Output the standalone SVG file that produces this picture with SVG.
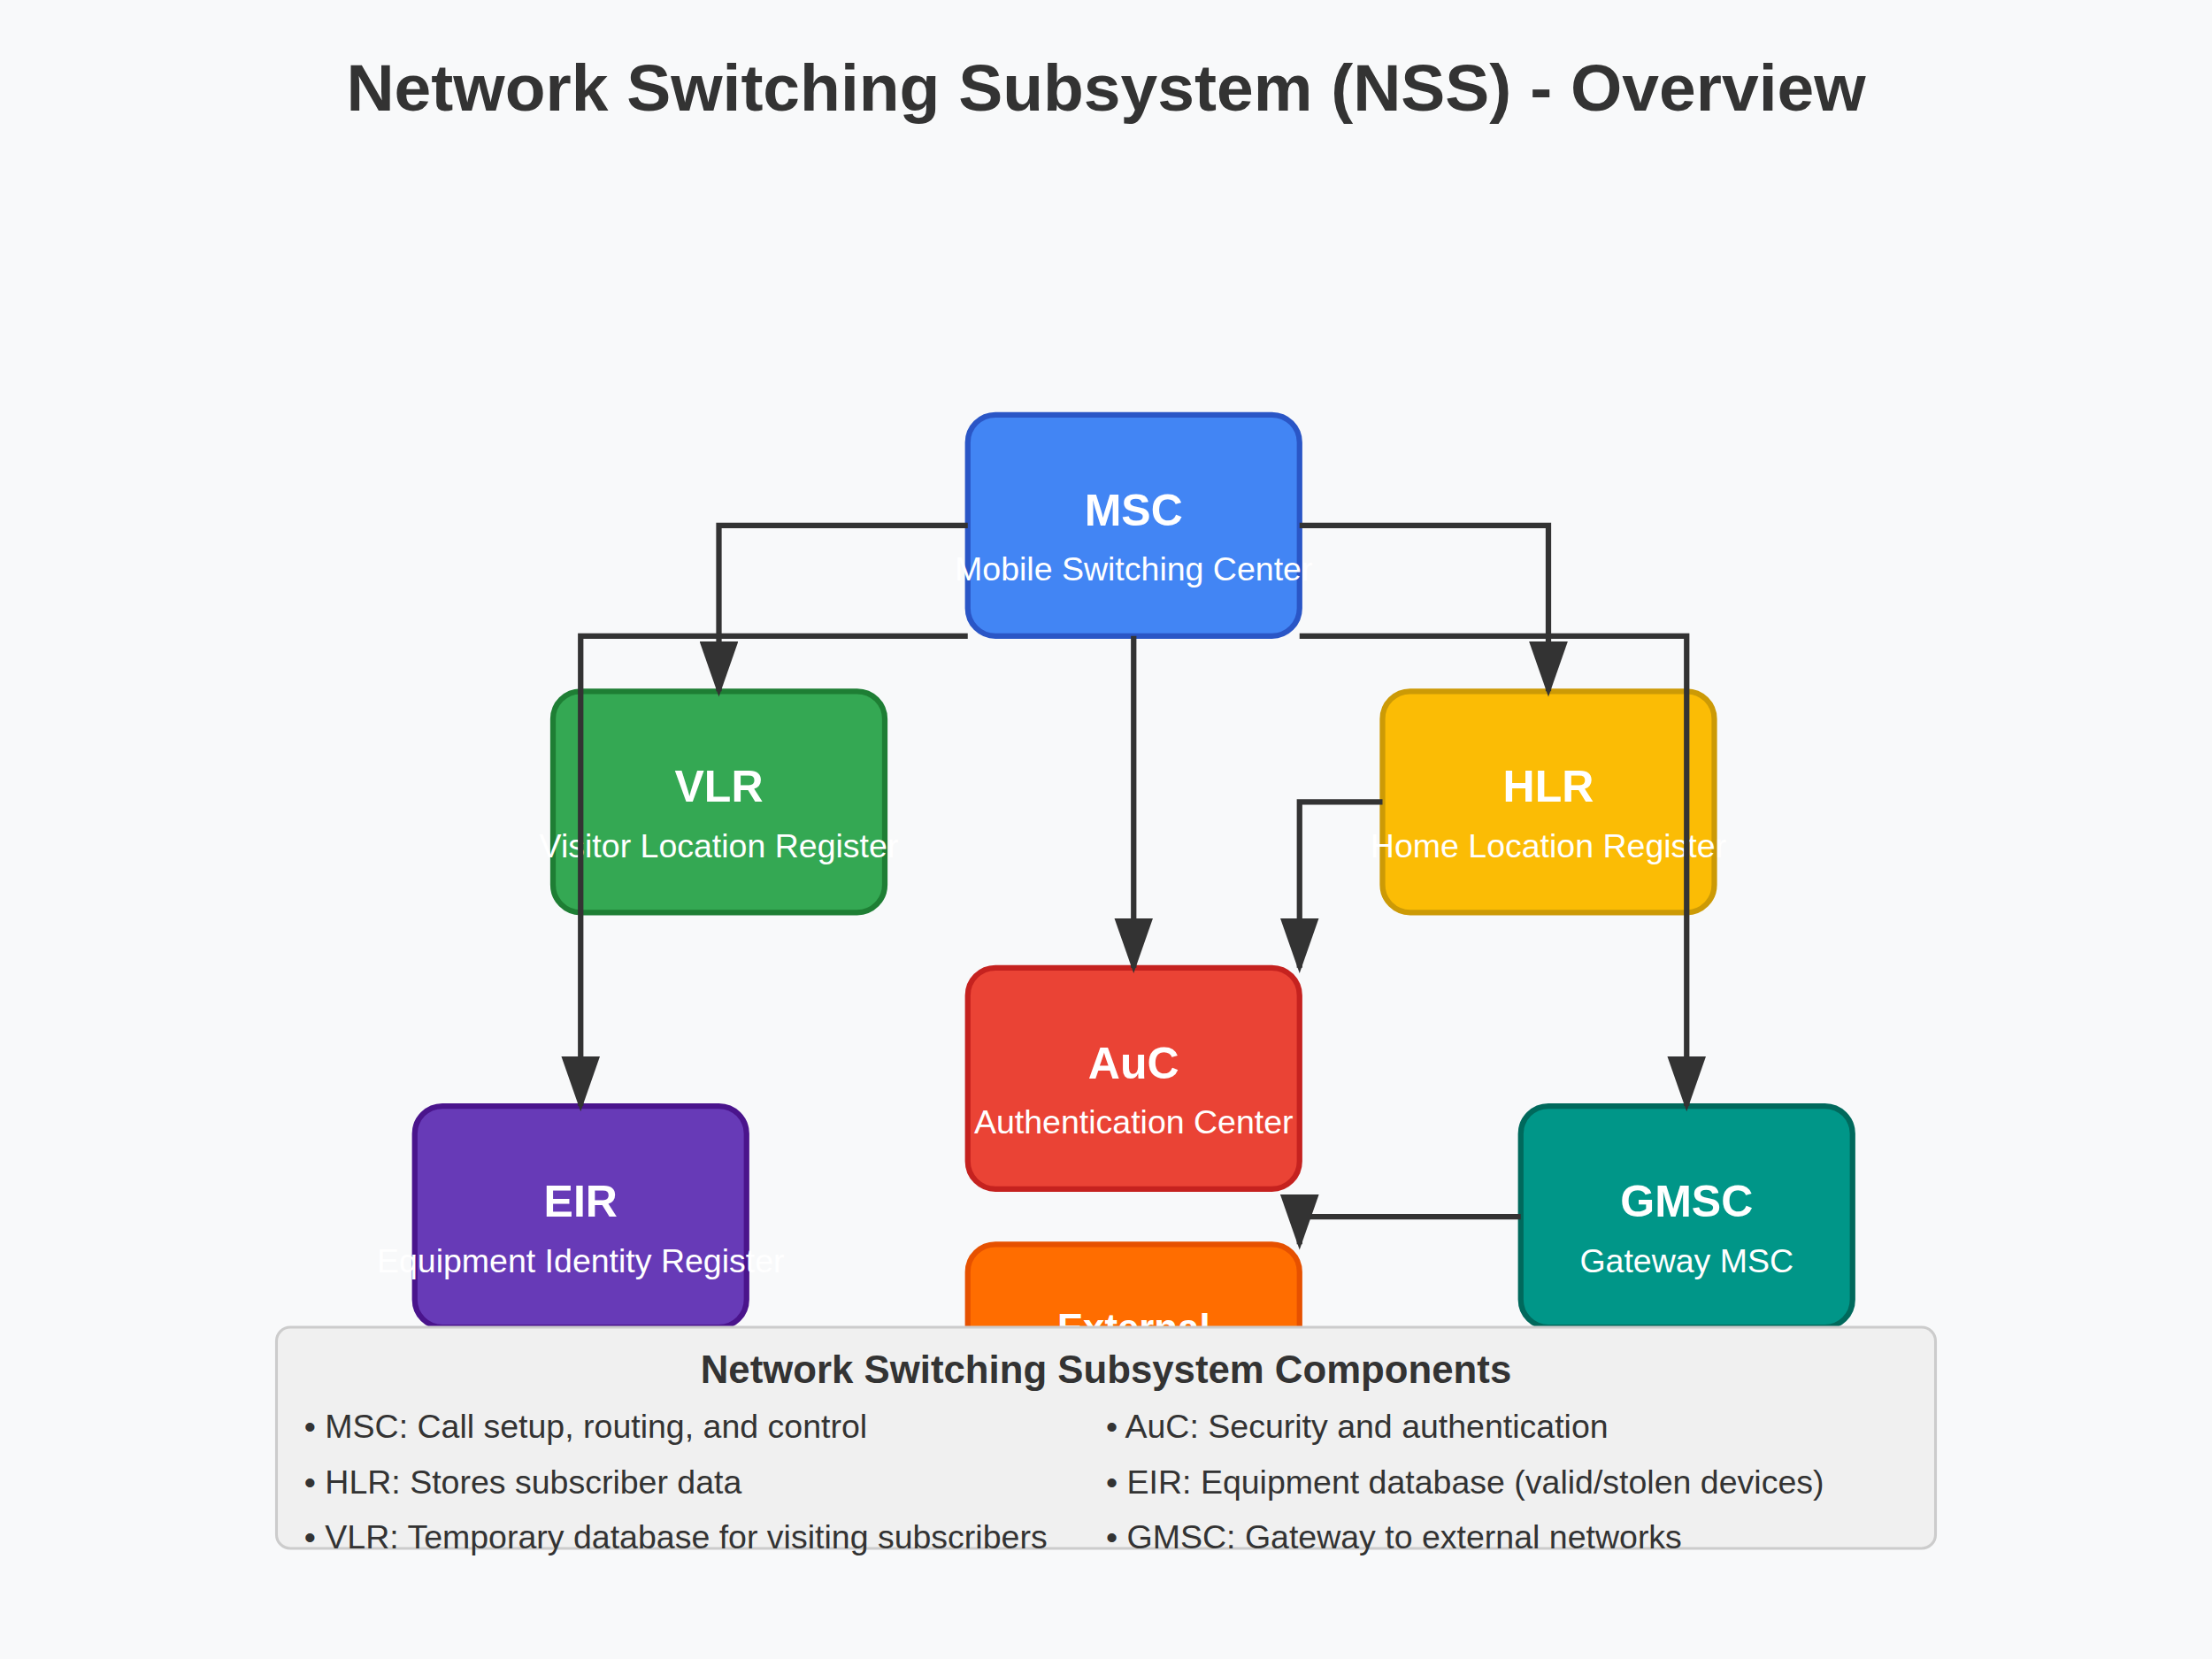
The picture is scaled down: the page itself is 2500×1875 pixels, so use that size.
<svg xmlns="http://www.w3.org/2000/svg" width="2500" height="1875" viewBox="0 0 2500 1875">
<style>
.bg{fill:#f8f9fa}
.node{stroke-width:2}
.t{font-family:"Liberation Sans",Arial,sans-serif;fill:#fff;text-anchor:middle}
.nt{font-size:16px;font-weight:bold}
.ns{font-size:12px}
.conn{fill:none;stroke:#333;stroke-width:2}
.title{font-family:"Liberation Sans",Arial,sans-serif;font-size:24px;font-weight:bold;fill:#333;text-anchor:middle}
.lt{font-family:"Liberation Sans",Arial,sans-serif;font-size:14px;font-weight:bold;fill:#333;text-anchor:middle}
.li{font-family:"Liberation Sans",Arial,sans-serif;font-size:12px;fill:#333}
</style>
<defs>
<marker id="arrow" markerWidth="10" markerHeight="7" refX="9" refY="3.5" orient="auto" markerUnits="strokeWidth">
<path d="M0,0 L10,3.5 L0,7 z" fill="#333"/>
</marker>
</defs>
<rect class="bg" x="0" y="0" width="2500" height="1875"/>
<g transform="scale(3.125)">
<text class="title" x="400" y="40">Network Switching Subsystem (NSS) - Overview</text>
<g id="nodes">
<g id="msc"><rect class="node" x="350" y="150" width="120" height="80" rx="10" fill="#4285f4" stroke="#2a56c6"/><text class="t nt" x="410" y="190">MSC</text><text class="t ns" x="410" y="210">Mobile Switching Center</text></g>
<g id="vlr"><rect class="node" x="200" y="250" width="120" height="80" rx="10" fill="#34a853" stroke="#1e7e34"/><text class="t nt" x="260" y="290">VLR</text><text class="t ns" x="260" y="310">Visitor Location Register</text></g>
<g id="hlr"><rect class="node" x="500" y="250" width="120" height="80" rx="10" fill="#fbbc05" stroke="#cc9a06"/><text class="t nt" x="560" y="290">HLR</text><text class="t ns" x="560" y="310">Home Location Register</text></g>
<g id="auc"><rect class="node" x="350" y="350" width="120" height="80" rx="10" fill="#ea4335" stroke="#c5221f"/><text class="t nt" x="410" y="390">AuC</text><text class="t ns" x="410" y="410">Authentication Center</text></g>
<g id="eir"><rect class="node" x="150" y="400" width="120" height="80" rx="10" fill="#673ab7" stroke="#4a148c"/><text class="t nt" x="210" y="440">EIR</text><text class="t ns" x="210" y="460">Equipment Identity Register</text></g>
<g id="gmsc"><rect class="node" x="550" y="400" width="120" height="80" rx="10" fill="#009688" stroke="#00695c"/><text class="t nt" x="610" y="440">GMSC</text><text class="t ns" x="610" y="460">Gateway MSC</text></g>
<g id="external"><rect class="node" x="350" y="450" width="120" height="80" rx="10" fill="#ff6d00" stroke="#e65100"/><text class="t" x="410" y="485" font-size="14" font-weight="bold">External</text></g>
</g>
<g id="connectors">
<path class="conn" d="M350,190 L260,190 L260,250" marker-end="url(#arrow)"/>
<path class="conn" d="M470,190 L560,190 L560,250" marker-end="url(#arrow)"/>
<path class="conn" d="M350,230 L210,230 L210,400" marker-end="url(#arrow)"/>
<path class="conn" d="M470,230 L610,230 L610,400" marker-end="url(#arrow)"/>
<path class="conn" d="M410,230 L410,350" marker-end="url(#arrow)"/>
<path class="conn" d="M500,290 L470,290 L470,350" marker-end="url(#arrow)"/>
<path class="conn" d="M550,440 L470,440 L470,450" marker-end="url(#arrow)"/>
</g>
<g id="legend">
<rect x="100" y="480" width="600" height="80" rx="5" fill="#f0f0f0" stroke="#ccc" stroke-width="1"/>
<text class="lt" x="400" y="500">Network Switching Subsystem Components</text>
<text class="li" x="110" y="520">• MSC: Call setup, routing, and control</text>
<text class="li" x="110" y="540">• HLR: Stores subscriber data</text>
<text class="li" x="110" y="560">• VLR: Temporary database for visiting subscribers</text>
<text class="li" x="400" y="520">• AuC: Security and authentication</text>
<text class="li" x="400" y="540">• EIR: Equipment database (valid/stolen devices)</text>
<text class="li" x="400" y="560">• GMSC: Gateway to external networks</text>
</g>
</g>
</svg>
